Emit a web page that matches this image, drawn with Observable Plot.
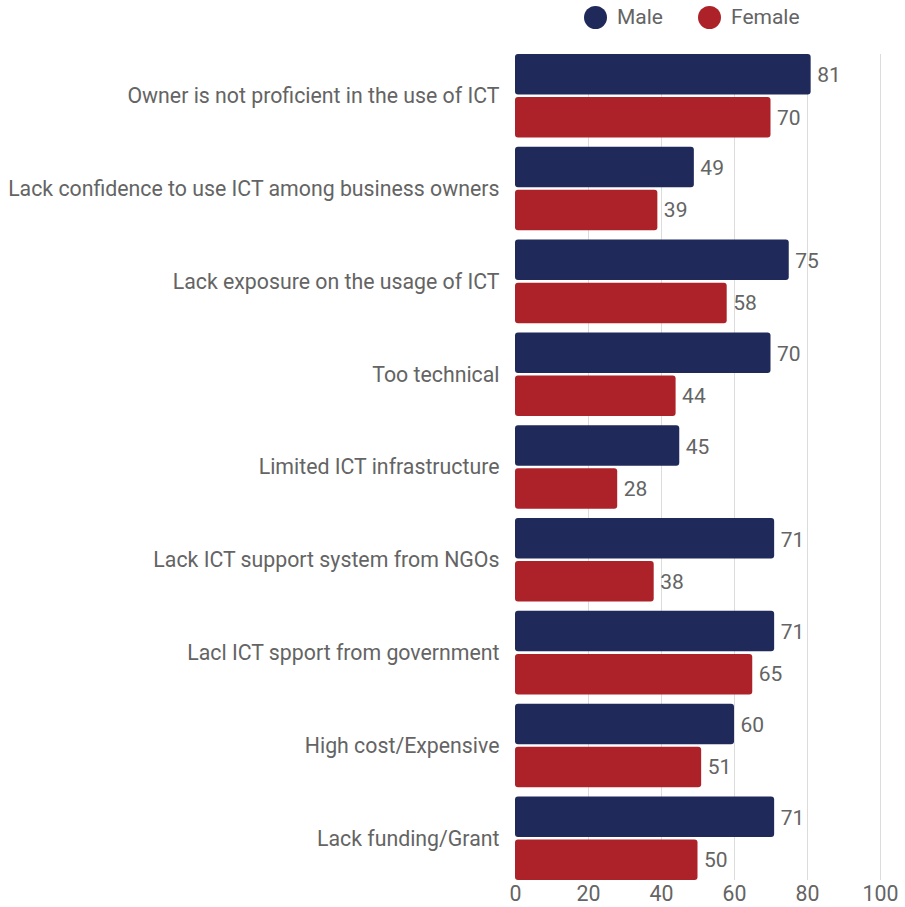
<!DOCTYPE html>
<html>
<head>
<meta charset="utf-8">
<script src="https://cdn.jsdelivr.net/npm/d3@7"></script>
<script src="https://cdn.jsdelivr.net/npm/@observablehq/plot@0.6"></script>
<style>
  html, body { margin: 0; padding: 0; background: #fff; overflow: hidden; }
  body { font-family: Roboto, "Noto Sans", sans-serif; color: #646464; }
  .legend { position: relative; height: 34px; width: 905px; }
  .legend .item { position: absolute; top: 6px; display: flex; align-items: center; font-size: 21px; line-height: 23px; }
  .legend .sw { width: 23px; height: 23px; border-radius: 50%; margin-right: 10px; }
  #chart svg { display: block; }
</style>
</head>
<body>
<div class="legend" id="legend"></div>
<div id="chart"></div>
<script>
const categories = [
  "Owner is not proficient in the use of ICT",
  "Lack confidence to use ICT among business owners",
  "Lack exposure on the usage of ICT",
  "Too technical",
  "Limited ICT infrastructure",
  "Lack ICT support system from NGOs",
  "Lacl ICT spport from government",
  "High cost/Expensive",
  "Lack funding/Grant"
];
const male = [81, 49, 75, 70, 45, 71, 71, 60, 71];
const female = [70, 39, 58, 44, 28, 38, 65, 51, 50];
const series = ["Male", "Female"];
const seriesColors = ["#1f2a5a", "#ad2129"];
const xTicks = [0, 20, 40, 60, 80, 100];

const rows = categories.flatMap((c, i) => [
  {category: c, sex: "Male", value: male[i]},
  {category: c, sex: "Female", value: female[i]}
]);
const maleRows = rows.filter(d => d.sex === "Male");
const femaleRows = rows.filter(d => d.sex === "Female");

// Legend above the chart
const legend = document.getElementById("legend");
const legendLeft = [584, 698];
series.forEach((s, i) => {
  const item = document.createElement("div");
  item.className = "item";
  item.style.left = legendLeft[i] + "px";
  const sw = document.createElement("span");
  sw.className = "sw";
  sw.style.background = seriesColors[i];
  item.appendChild(sw);
  item.appendChild(document.createTextNode(s));
  legend.appendChild(item);
});

const W = 905, H = 873;
const mTop = 20, mBottom = 27;
const band = (H - mTop - mBottom) / (categories.length - 0.1) * 0.9;
const half = band / 2;
const gap = 1.3;

const chart = Plot.plot({
  width: W,
  height: H,
  marginLeft: 515,
  marginRight: 25,
  marginTop: mTop,
  marginBottom: mBottom,
  style: {fontFamily: "Roboto, sans-serif", fontSize: "21.3px", color: "#646464", background: "#fff"},
  x: {domain: [0, 100], ticks: xTicks, label: null, tickSize: 0, tickPadding: 5},
  y: {domain: categories, paddingInner: 0.1, paddingOuter: 0, round: false, label: null, tickSize: 0, tickPadding: 16},
  color: {domain: series, range: seriesColors},
  marks: [
    Plot.ruleX(xTicks.filter(t => t > 0), {stroke: "#dcdcdc", strokeWidth: 1}),
    Plot.barX(maleRows, {x: "value", y: "category", fill: "sex", insetBottom: half + gap, rx: 3}),
    Plot.barX(femaleRows, {x: "value", y: "category", fill: "sex", insetTop: half + gap, rx: 3}),
    Plot.text(maleRows, {x: "value", y: "category", text: d => String(d.value), dx: 6, dy: -half / 2 - gap / 2 + 1, textAnchor: "start", fill: "#646464", fontSize: 21}),
    Plot.text(femaleRows, {x: "value", y: "category", text: d => String(d.value), dx: 6, dy: half / 2 + gap / 2, textAnchor: "start", fill: "#646464", fontSize: 21})
  ]
});
document.getElementById("chart").appendChild(chart);
</script>
</body>
</html>
